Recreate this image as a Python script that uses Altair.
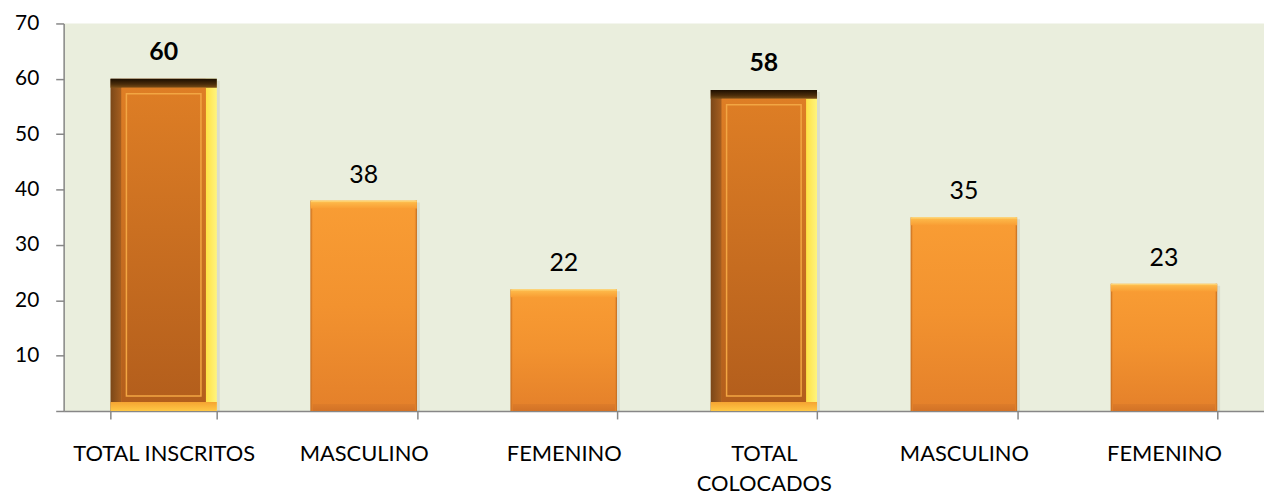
import json
import altair as alt
import pandas as pd

# ---- data ----
categories = ["TOTAL INSCRITOS", "MASCULINO", "FEMENINO", "TOTAL COLOCADOS", "MASCULINO", "FEMENINO"]
values = [60, 38, 22, 58, 35, 23]
is_total = [True, False, False, True, False, False]
x_tick_labels = ["TOTAL INSCRITOS", "MASCULINO", "FEMENINO", ["TOTAL", "COLOCADOS"], "MASCULINO", "FEMENINO"]
y_ticks = [0, 10, 20, 30, 40, 50, 60, 70]

df = pd.DataFrame({
    "idx": list(range(len(categories))),
    "category": categories,
    "value": values,
    "total": is_total,
})

FONT = "Lato"
W, H = 1208, 390
BAR = 107

def grad_v(stops):
    return alt.Gradient(gradient="linear", x1=0, x2=0, y1=0, y2=1,
                        stops=[alt.GradientStop(offset=o, color=c) for o, c in stops])

def grad_h(stops):
    return alt.Gradient(gradient="linear", x1=0, x2=1, y1=0, y2=0,
                        stops=[alt.GradientStop(offset=o, color=c) for o, c in stops])

x_enc = alt.X(
    "idx:O",
    scale=alt.Scale(paddingInner=0.468, paddingOuter=0.234),
    axis=alt.Axis(
        title=None, labelAngle=0, labelExpr=f"{json.dumps(x_tick_labels)}[datum.value]",
        labelFontSize=22, labelFont=FONT, labelColor="#000000", labelPadding=25,
        labelLineHeight=30, labelLimit=0, tickBand="extent", tickSize=8, tickColor="#878787",
        domainColor="#878787", domainWidth=1.5, tickWidth=1.5,
    ),
)
y_scale = alt.Scale(domain=[0, 70], nice=False)
y_axis = alt.Axis(
    title=None, values=y_ticks, labelExpr="datum.value == 0 ? '' : datum.label",
    labelFontSize=21, labelFont=FONT, labelColor="#000000", labelPadding=17,
    tickSize=8, tickColor="#878787", domainColor="#878787", domainWidth=1.5,
    tickWidth=1.5, grid=False,
)

base = alt.Chart(df).transform_calculate(zero="0").encode(x=x_enc)
tot = base.transform_filter("datum.total")
oth = base.transform_filter("!datum.total")

Y = alt.Y("value:Q", scale=y_scale, axis=y_axis)
Yz = alt.Y("zero:Q", scale=y_scale, axis=y_axis)

shadow = base.mark_bar(size=BAR, xOffset=3, yOffset=2, color="#000000", opacity=0.07).encode(
    y=Y, y2="zero:Q")

# ---- total bars (bevelled frame) ----
t_outer = tot.mark_bar(size=BAR, color=grad_h([
    (0, "#7A4718"), (0.1, "#A65E1F"), (0.105, "#C97122"), (0.5, "#DB7D25"),
    (0.89, "#E99A32"), (0.9, "#FFE246"), (1, "#FFF47E")])).encode(y=Y, y2="zero:Q")
t_top = tot.mark_bar(size=BAR, y2Offset=9, color=grad_v([
    (0, "#1C0E00"), (0.6, "#4A2C0A"), (1, "#7A4E18")])).encode(y=Y, y2="value:Q")
t_bottom = tot.mark_bar(size=BAR, yOffset=-9, color=grad_v([
    (0, "#F5A432"), (1, "#FFC845")])).encode(y=Yz, y2="zero:Q")
t_inner = tot.mark_bar(size=BAR - 22, yOffset=9, y2Offset=-9, color=grad_v([
    (0, "#DE7E25"), (1, "#B35E1C")])).encode(y=Y, y2="zero:Q")
t_frame = tot.mark_bar(size=BAR - 32, yOffset=15, y2Offset=-15, fillOpacity=0,
                       stroke="#F2A643", strokeWidth=1.5).encode(y=Y, y2="zero:Q")

# ---- gender bars ----
o_outer = oth.mark_bar(size=BAR, color=grad_v([
    (0, "#F99D34"), (0.5, "#F2922F"), (1, "#E4802A")])).encode(y=Y, y2="zero:Q")
o_edges = oth.mark_bar(size=BAR, color=grad_h([
    (0, "#B8661E"), (0.025, "rgba(240,140,45,0)"), (0.975, "rgba(240,140,45,0)"),
    (1, "#B8661E")])).encode(y=Y, y2="zero:Q")
o_top = oth.mark_bar(size=BAR, y2Offset=8, color=grad_v([
    (0, "#FFE58C"), (0.25, "#FDB748"), (1, "#F99E34")])).encode(y=Y, y2="value:Q")
o_bottom = oth.mark_bar(size=BAR - 4, yOffset=-7, color=grad_v([
    (0, "#DD7C2A"), (1, "#D27226")])).encode(y=Yz, y2="zero:Q")

# ---- value labels ----
t_text = tot.mark_text(baseline="alphabetic", dy=-19, fontSize=25, fontWeight="bold",
                       font=FONT, color="#000000").encode(y=Y, text="value:Q")
o_text = oth.mark_text(baseline="alphabetic", dy=-18, fontSize=25, font=FONT,
                       color="#000000").encode(y=Y, text="value:Q")

chart = alt.layer(
    shadow, t_outer, t_top, t_bottom, t_inner, t_frame,
    o_outer, o_edges, o_top, o_bottom, t_text, o_text
).properties(
    width=W, height=H,
    autosize=alt.AutoSizeParams(type="none"),
    padding={"left": 56, "top": 14, "right": 0, "bottom": 84},
).configure(background="#FFFFFF").configure_view(fill="#EAEEDD", stroke=None)

chart.save("out.html", embed_options={"renderer": "svg", "actions": False})
